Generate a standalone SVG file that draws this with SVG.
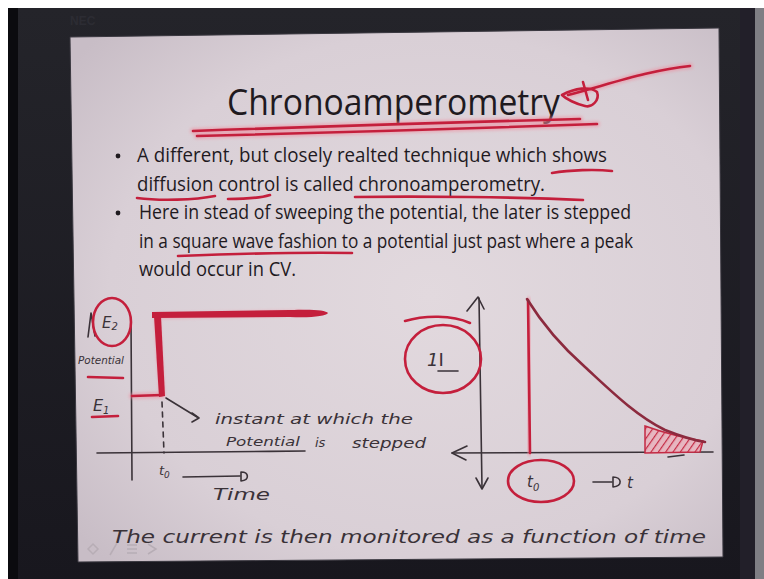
<svg xmlns="http://www.w3.org/2000/svg" width="764" height="579" viewBox="0 0 764 579">
  <defs>
    <radialGradient id="slideBg" cx="0.55" cy="0.5" r="0.7">
      <stop offset="0" stop-color="#e2d9de"/>
      <stop offset="0.7" stop-color="#d9cfd6"/>
      <stop offset="1" stop-color="#c8bdc6"/>
    </radialGradient>
    <linearGradient id="bezel" x1="0" y1="0" x2="0" y2="1">
      <stop offset="0" stop-color="#24242a"/>
      <stop offset="1" stop-color="#18171e"/>
    </linearGradient>
    <filter id="glow" x="-10%" y="-50%" width="120%" height="200%">
      <feGaussianBlur stdDeviation="1.6"/>
    </filter>
    <pattern id="hatch" width="6" height="6" patternUnits="userSpaceOnUse" patternTransform="rotate(35)">
      <rect width="6" height="6" fill="#e7b6c0"/>
      <line x1="0" y1="0" x2="0" y2="6" stroke="#c42a44" stroke-width="2.4"/>
    </pattern>
    <style>
      .txt { font-family: "Open Sans", "Noto Sans", "Liberation Sans", sans-serif; fill: #1f1a1f; }
      .hand { font-family: "DejaVu Sans", "Liberation Sans", sans-serif; font-style: italic; fill: #3a3238; }
      .red { fill: none; stroke: #c41f3c; stroke-width: 2.6; stroke-linecap: round; stroke-linejoin: round; }
      .halo { fill: none; stroke: #f08a9c; stroke-width: 6; stroke-linecap: round; opacity: 0.55; filter: url(#glow); }
      .ink { fill: none; stroke: #3a3238; stroke-width: 1.6; stroke-linecap: round; stroke-linejoin: round; }
      .maroon { fill: none; stroke: #8c2a3e; stroke-width: 2.6; stroke-linecap: round; }
    </style>
  </defs>

  <!-- background: monitor bezel -->
  <rect width="764" height="579" fill="#ffffff"/>
  <rect x="8" y="8" width="756" height="571" fill="url(#bezel)"/>
  <rect x="8" y="8" width="10" height="571" fill="#0b0b0f"/>
  <rect x="740" y="8" width="15" height="571" fill="#221f29"/>
  <rect x="755" y="8" width="9" height="571" fill="#7f7e84"/>
  <text x="70" y="25" font-family="Liberation Sans, sans-serif" font-size="12" font-weight="bold" fill="#2c2c33">NEC</text>

  <!-- slide -->
  <polygon points="70,37 719,28 723,557 78,562" fill="url(#slideBg)" stroke="#3a3840" stroke-width="1"/>

  <!-- title -->
  <g id="title">
    <text class="txt" x="227" y="115" font-size="37" textLength="333" lengthAdjust="spacingAndGlyphs">Chronoamperometry</text>
    <path class="halo" d="M193,131 Q390,124 580,119 M197,136 Q400,131 597,124"/>
    <path class="red" d="M193,131 Q390,124 580,119"/>
    <path class="red" d="M197,136 Q400,131 597,124"/>
    <path class="halo" d="M568,95 C610,84 650,70 690,66"/>
    <path class="red" d="M562,95 C575,88 590,86 597,92 C600,100 592,108 585,106 C576,104 566,99 562,95"/>
    <path class="red" d="M583,82 L588,100"/>
    <path class="red" d="M568,95 C610,84 650,70 690,66"/>
  </g>

  <!-- bullets -->
  <g id="bullets">
    <circle cx="118" cy="156" r="2.4" fill="#1f1a1f"/>
    <circle cx="118" cy="213" r="2.4" fill="#1f1a1f"/>
    <text class="txt" x="137" y="162" font-size="19.5" textLength="470" lengthAdjust="spacingAndGlyphs">A different, but closely realted technique which shows</text>
    <text class="txt" x="137" y="191" font-size="19.5" textLength="408" lengthAdjust="spacingAndGlyphs">diffusion control is called chronoamperometry.</text>
    <text class="txt" x="139" y="219" font-size="19.5" textLength="492" lengthAdjust="spacingAndGlyphs">Here in stead of sweeping the potential, the later is stepped</text>
    <text class="txt" x="139" y="248" font-size="19.5" textLength="494" lengthAdjust="spacingAndGlyphs">in a square wave fashion to a potential just past where a peak</text>
    <text class="txt" x="139" y="276" font-size="19.5" textLength="157" lengthAdjust="spacingAndGlyphs">would occur in CV.</text>
    <path class="red" d="M552,173 C570,170 595,169 612,171"/>
    <path class="red" d="M137,198 C160,201 195,200 215,196"/>
    <path class="red" d="M228,199 C245,199 260,198 270,195"/>
    <path class="red" d="M355,197 C420,196 520,197 583,200"/>
    <path class="red" stroke-width="2" d="M178,256 C230,254 300,252 352,253"/>
  </g>

  <!-- left graph: potential step -->
  <g id="potential-graph">
    <path class="ink" d="M131,320 L132,480"/>
    <path class="ink" d="M97,453 C150,452 230,452 305,451"/>
    <path class="ink" d="M88,337 L91,313 L95,336"/>
    <ellipse cx="112" cy="322" rx="19" ry="24" class="red" stroke-width="2"/>
    <text class="hand" x="102" y="328" font-size="15">E<tspan font-size="10" dy="2">2</tspan></text>
    <text class="hand" x="78" y="364" font-size="10" textLength="46" lengthAdjust="spacingAndGlyphs">Potential</text>
    <path class="red" d="M88,377 L123,378"/>
    <text class="hand" x="93" y="411" font-size="16">E<tspan font-size="10" dy="3">1</tspan></text>
    <path class="red" d="M92,417 L118,416"/>
    <path class="halo" d="M132,396 L162,395 L157,316 L300,313"/>
    <path class="red" d="M132,396 L162,395"/>
    <path fill="#c41f3c" d="M154,316 L161,316 L165,396 L159,397 Z"/>
    <path fill="#c41f3c" d="M152,312 L290,310 C312,309 326,310 328,313 C326,316 312,318 290,317 L152,318 Z"/>
    <path class="ink" stroke-dasharray="5,5" d="M162,402 L164,453"/>
    <path class="ink" d="M166,398 L197,417"/>
    <path class="ink" d="M192,413 L199,418 L192,422"/>
    <text class="hand" x="215" y="424" font-size="14" textLength="198" lengthAdjust="spacingAndGlyphs">instant at which the</text>
    <text class="hand" x="226" y="446" font-size="13" textLength="74" lengthAdjust="spacingAndGlyphs">Potential</text>
    <text class="hand" x="315" y="447" font-size="13">is</text>
    <text class="hand" x="352" y="448" font-size="14" textLength="74" lengthAdjust="spacingAndGlyphs">stepped</text>
    <text class="hand" x="159" y="475" font-size="13">t<tspan font-size="9" dy="3">0</tspan></text>
    <path class="ink" d="M183,477 L240,476"/>
    <path class="ink" d="M241,472 C249,472 250,480 241,481 Z"/>
    <text class="hand" x="213" y="500" font-size="15" textLength="57" lengthAdjust="spacingAndGlyphs">Time</text>
  </g>

  <!-- right graph: current decay -->
  <g id="current-graph">
    <path class="ink" d="M479,298 L482,488"/>
    <path class="ink" d="M467,311 L478,297 L484,309"/>
    <path class="ink" d="M476,478 L482,489 L488,478"/>
    <path class="ink" d="M452,453 C550,453 640,452 713,452"/>
    <path class="ink" d="M467,446 L452,453 L466,460"/>
    <path d="M645,426 C662,432 684,438 703,441 L700,452 L645,453 Z" fill="url(#hatch)" stroke="#c42a44" stroke-width="1.5"/>
    <path class="halo" d="M528,300 L530,453"/>
    <path class="red" stroke-width="3.2" d="M528,300 L530,453"/>
    <path class="maroon" d="M527,299 C540,320 560,345 585,367 C610,390 635,415 665,430 C680,436 692,440 705,442"/>
    <ellipse cx="443" cy="359" rx="38" ry="34" class="red" stroke="#b8283f" stroke-width="2"/>
    <path class="red" stroke="#b8283f" stroke-width="2" d="M405,321 C425,315 452,315 470,323"/>
    <text class="hand" x="427" y="366" font-size="18">1<tspan font-style="normal">I</tspan></text>
    <path class="ink" stroke-width="1.3" d="M438,371 L458,371"/>
    <ellipse cx="541" cy="481" rx="33" ry="21" class="red" stroke="#b8283f" stroke-width="2"/>
    <text class="hand" x="527" y="487" font-size="15">t<tspan font-size="10" dy="4">0</tspan></text>
    <path class="ink" d="M593,482 L612,482"/>
    <path class="ink" d="M613,477 C622,477 623,486 613,487 Z"/>
    <text class="hand" x="627" y="488" font-size="15">t</text>
    <path class="ink" d="M668,457 L684,455"/>
  </g>

  <!-- bottom handwritten note -->
  <g id="note">
    <text class="hand" x="112" y="543" font-size="18" textLength="594" lengthAdjust="spacingAndGlyphs">The current is then monitored as a function of time</text>
  </g>

  <!-- slide navigation icons -->
  <g id="nav" fill="none" stroke="#b7adb5" stroke-width="1.5">
    <path d="M88,549 L93,544 L98,549 L93,554 Z"/>
    <path d="M110,555 L117,543"/>
    <path d="M127,545 L137,545 M127,549 L137,549 M127,553 L137,553"/>
    <path d="M148,544 L156,549 L148,554"/>
  </g>
</svg>
